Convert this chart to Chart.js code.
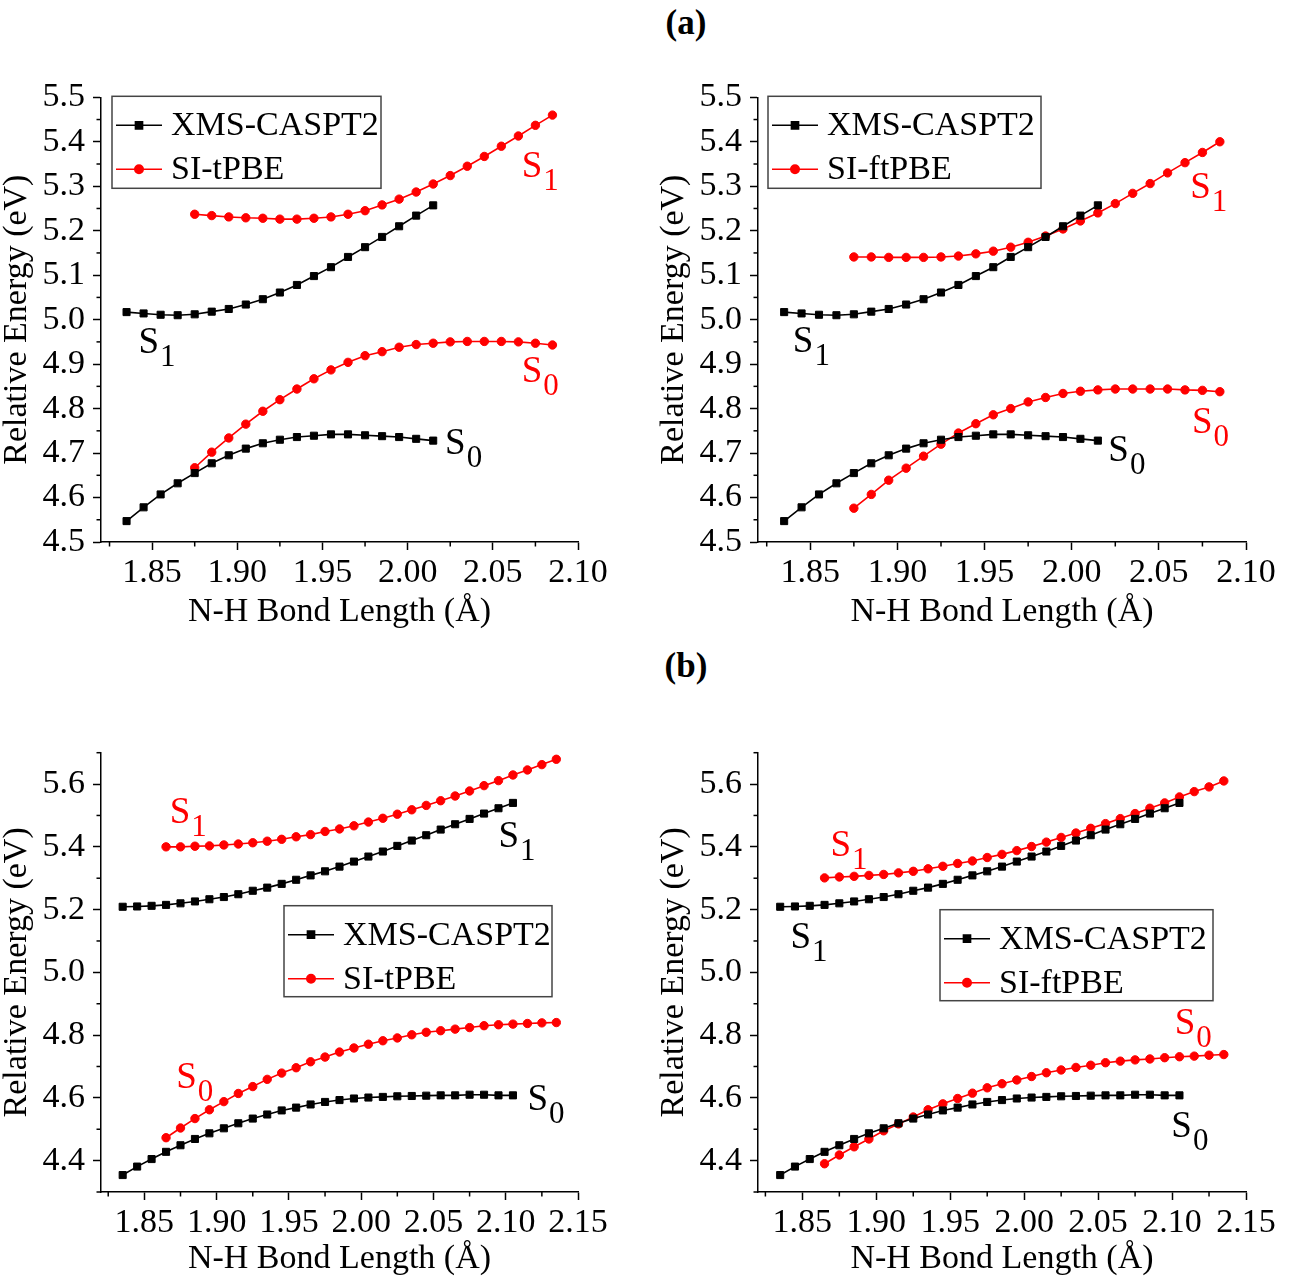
<!DOCTYPE html>
<html>
<head>
<meta charset="utf-8">
<script src="https://cdn.jsdelivr.net/npm/chart.js@4.4.1/dist/chart.umd.min.js"></script>
<style>
  body { margin: 0; background: #fff; width: 1305px; height: 1280px; position: relative; }
  .panel { position: absolute; }
  .tag { position: absolute; width: 100px; margin-left: -50px; text-align: center; line-height: 40px;
         font: bold 35px 'Liberation Serif', 'Times New Roman', serif; color: #000; }
</style>
</head>
<body>
<div class="tag" style="left:686px; top:3px;">(a)</div>
<div class="tag" style="left:686px; top:646px;">(b)</div>
<div class="panel" style="left:0px; top:60px;"><canvas id="a-tpbe" width="640" height="582"></canvas></div>
<div class="panel" style="left:657px; top:60px;"><canvas id="a-ftpbe" width="640" height="582"></canvas></div>
<div class="panel" style="left:0px; top:715px;"><canvas id="b-tpbe" width="640" height="577"></canvas></div>
<div class="panel" style="left:657px; top:715px;"><canvas id="b-ftpbe" width="640" height="577"></canvas></div>
<script>
// bond lengths (Å)
const bondA_ref = [1.835, 1.845, 1.855, 1.865, 1.875, 1.885, 1.895, 1.905, 1.915, 1.925, 1.935, 1.945, 1.955, 1.965, 1.975, 1.985, 1.995, 2.005, 2.015];
const bondA_dft = [1.875, 1.885, 1.895, 1.905, 1.915, 1.925, 1.935, 1.945, 1.955, 1.965, 1.975, 1.985, 1.995, 2.005, 2.015, 2.025, 2.035, 2.045, 2.055, 2.065, 2.075, 2.085];
const bondB_ref = [1.835, 1.845, 1.855, 1.865, 1.875, 1.885, 1.895, 1.905, 1.915, 1.925, 1.935, 1.945, 1.955, 1.965, 1.975, 1.985, 1.995, 2.005, 2.015, 2.025, 2.035, 2.045, 2.055, 2.065, 2.075, 2.085, 2.095, 2.105];
const bondB_dft = [1.865, 1.875, 1.885, 1.895, 1.905, 1.915, 1.925, 1.935, 1.945, 1.955, 1.965, 1.975, 1.985, 1.995, 2.005, 2.015, 2.025, 2.035, 2.045, 2.055, 2.065, 2.075, 2.085, 2.095, 2.105, 2.115, 2.125, 2.135];

// relative energies (eV), panel (a)
const a_caspt2_S1 = [5.017, 5.014, 5.011, 5.010, 5.012, 5.018, 5.024, 5.034, 5.046, 5.061, 5.078, 5.098, 5.118, 5.141, 5.163, 5.186, 5.210, 5.234, 5.257];
const a_caspt2_S0 = [4.547, 4.578, 4.607, 4.632, 4.655, 4.677, 4.695, 4.710, 4.722, 4.730, 4.736, 4.739, 4.742, 4.742, 4.740, 4.738, 4.736, 4.732, 4.728];
const a_tpbe_S1 = [5.237, 5.234, 5.231, 5.229, 5.228, 5.226, 5.226, 5.228, 5.231, 5.237, 5.245, 5.258, 5.271, 5.287, 5.305, 5.324, 5.345, 5.367, 5.390, 5.413, 5.437, 5.460];
const a_tpbe_S0 = [4.667, 4.702, 4.734, 4.765, 4.794, 4.820, 4.844, 4.867, 4.887, 4.904, 4.919, 4.928, 4.938, 4.944, 4.947, 4.950, 4.951, 4.951, 4.951, 4.950, 4.947, 4.943];
const a_ftpbe_S1 = [5.141, 5.141, 5.140, 5.140, 5.140, 5.141, 5.143, 5.148, 5.154, 5.163, 5.174, 5.188, 5.204, 5.222, 5.240, 5.261, 5.284, 5.306, 5.330, 5.353, 5.376, 5.400];
const a_ftpbe_S0 = [4.576, 4.607, 4.639, 4.666, 4.693, 4.720, 4.745, 4.766, 4.786, 4.800, 4.815, 4.825, 4.834, 4.839, 4.842, 4.844, 4.844, 4.844, 4.844, 4.842, 4.841, 4.838];

// relative energies (eV), panel (b)
const b_caspt2_S1 = [5.209, 5.210, 5.212, 5.215, 5.220, 5.226, 5.233, 5.240, 5.249, 5.260, 5.270, 5.282, 5.295, 5.309, 5.322, 5.337, 5.353, 5.369, 5.385, 5.403, 5.420, 5.437, 5.455, 5.472, 5.489, 5.506, 5.523, 5.540];
const b_caspt2_S0 = [4.354, 4.381, 4.405, 4.428, 4.449, 4.469, 4.487, 4.503, 4.519, 4.534, 4.547, 4.560, 4.569, 4.579, 4.587, 4.593, 4.598, 4.601, 4.603, 4.605, 4.606, 4.607, 4.608, 4.608, 4.610, 4.610, 4.608, 4.608];
const b_tpbe_S1 = [5.400, 5.400, 5.402, 5.403, 5.406, 5.409, 5.413, 5.418, 5.424, 5.432, 5.439, 5.449, 5.457, 5.467, 5.479, 5.491, 5.504, 5.518, 5.532, 5.547, 5.562, 5.578, 5.595, 5.611, 5.629, 5.645, 5.662, 5.679];
const b_tpbe_S0 = [4.473, 4.504, 4.534, 4.562, 4.588, 4.614, 4.636, 4.659, 4.679, 4.696, 4.715, 4.730, 4.746, 4.759, 4.771, 4.782, 4.791, 4.801, 4.809, 4.814, 4.819, 4.824, 4.830, 4.833, 4.835, 4.837, 4.839, 4.840];
const b_ftpbe_S1 = [5.301, 5.304, 5.306, 5.309, 5.312, 5.317, 5.322, 5.330, 5.338, 5.347, 5.355, 5.366, 5.376, 5.388, 5.401, 5.415, 5.430, 5.444, 5.459, 5.474, 5.490, 5.506, 5.523, 5.540, 5.559, 5.576, 5.591, 5.610];
const b_ftpbe_S0 = [4.390, 4.418, 4.444, 4.469, 4.495, 4.517, 4.539, 4.562, 4.581, 4.598, 4.615, 4.632, 4.645, 4.657, 4.668, 4.680, 4.689, 4.697, 4.704, 4.712, 4.717, 4.721, 4.724, 4.728, 4.731, 4.733, 4.736, 4.738];

// tick labels
const xTicksA = [1.85, 1.90, 1.95, 2.00, 2.05, 2.10];
const xMinorA = [1.825, 1.875, 1.925, 1.975, 2.025, 2.075];
const xTicksB = [1.85, 1.90, 1.95, 2.00, 2.05, 2.10, 2.15];
const xMinorB = [1.825, 1.875, 1.925, 1.975, 2.025, 2.075, 2.125];
const yTicksA = [4.5, 4.6, 4.7, 4.8, 4.9, 5.0, 5.1, 5.2, 5.3, 5.4, 5.5];
const yMinorA = [4.55, 4.65, 4.75, 4.85, 4.95, 5.05, 5.15, 5.25, 5.35, 5.45];
const yTicksB = [4.4, 4.6, 4.8, 5.0, 5.2, 5.4, 5.6];
const yMinorB = [4.3, 4.5, 4.7, 4.9, 5.1, 5.3, 5.5, 5.7];

const refName = 'XMS-CASPT2';
const serif = "'Liberation Serif', 'Times New Roman', serif";
Chart.defaults.font.family = serif;
Chart.defaults.color = '#000';

function pairs(xs, ys) {
    return xs.map((x, i) => ({x: x, y: ys[i]}));
}

function series(label, xs, ys, color, style) {
    return {
        label: label,
        data: pairs(xs, ys),
        borderColor: color,
        backgroundColor: color,
        borderWidth: 1.6,
        pointStyle: style,
        pointRadius: style === 'rect' ? 5 : 4.2,
        pointBorderWidth: 1,
        tension: 0
    };
}

// small outward ticks between the labelled ones
const minorTicks = {
    id: 'minorTicks',
    afterDraw(chart, args, o) {
        const {ctx, chartArea, scales} = chart;
        ctx.save();
        ctx.strokeStyle = '#000';
        ctx.lineWidth = 1.5;
        o.x.forEach(v => {
            const px = scales.x.getPixelForValue(v);
            ctx.beginPath();
            ctx.moveTo(px, chartArea.bottom);
            ctx.lineTo(px, chartArea.bottom + 4.5);
            ctx.stroke();
        });
        o.y.forEach(v => {
            const py = scales.y.getPixelForValue(v);
            ctx.beginPath();
            ctx.moveTo(chartArea.left, py);
            ctx.lineTo(chartArea.left - 4.5, py);
            ctx.stroke();
        });
        ctx.restore();
    }
};

// S0 / S1 state labels, placed in data coordinates
const stateLabels = {
    id: 'stateLabels',
    afterDatasetsDraw(chart, args, o) {
        const {ctx, scales} = chart;
        ctx.save();
        ctx.textBaseline = 'alphabetic';
        ctx.textAlign = 'left';
        o.items.forEach(it => {
            const px = scales.x.getPixelForValue(it.x);
            const py = scales.y.getPixelForValue(it.y);
            ctx.fillStyle = it.color;
            ctx.font = '37px ' + serif;
            ctx.fillText('S', px, py);
            const w = ctx.measureText('S').width;
            ctx.font = '31px ' + serif;
            ctx.fillText(it.sub, px + w + 1, py + 13);
        });
        ctx.restore();
    }
};

// framed legend inside the plot
const boxLegend = {
    id: 'boxLegend',
    afterDatasetsDraw(chart, args, o) {
        const {ctx, chartArea} = chart;
        const left = chartArea.left + o.dx;
        const top = chartArea.top + o.dy;
        ctx.save();
        ctx.fillStyle = '#fff';
        ctx.fillRect(left, top, o.w, o.h);
        ctx.strokeStyle = '#444';
        ctx.lineWidth = 1.5;
        ctx.strokeRect(left, top, o.w, o.h);
        o.items.forEach((idx, i) => {
            const ds = chart.data.datasets[idx];
            const cy = top + o.rows[i];
            ctx.strokeStyle = ds.borderColor;
            ctx.lineWidth = 1.6;
            ctx.beginPath();
            ctx.moveTo(left + 4, cy);
            ctx.lineTo(left + 50, cy);
            ctx.stroke();
            ctx.fillStyle = ds.backgroundColor;
            Chart.helpers.drawPoint(ctx, {pointStyle: ds.pointStyle, radius: ds.pointRadius, rotation: 0, borderWidth: 1}, left + 27, cy);
            ctx.fillStyle = '#000';
            ctx.font = '34px ' + serif;
            ctx.textBaseline = 'middle';
            ctx.fillText(ds.label, left + 59, cy + 1);
        });
        ctx.restore();
    }
};

function makePanel(id, p) {
    new Chart(document.getElementById(id), {
        type: 'line',
        data: {
            datasets: [
                series(refName, p.refX, p.refS0, '#000000', 'rect'),
                series(refName, p.refX, p.refS1, '#000000', 'rect'),
                series(p.dftName, p.dftX, p.dftS0, '#ff0000', 'circle'),
                series(p.dftName, p.dftX, p.dftS1, '#ff0000', 'circle')
            ]
        },
        options: {
            responsive: false,
            animation: false,
            layout: {padding: {top: p.padTop, right: p.padRight, left: 0, bottom: 0}},
            plugins: {
                legend: {display: false},
                tooltip: {enabled: false},
                minorTicks: {x: p.xMinor, y: p.yMinor},
                stateLabels: {items: p.labels},
                boxLegend: Object.assign({items: [0, 2], rows: [29, 73]}, p.legend)
            },
            scales: {
                x: {
                    type: 'linear',
                    min: 1.82,
                    max: p.xMax,
                    afterBuildTicks: s => { s.ticks = p.xTicks.map(v => ({value: v})); },
                    afterFit: s => { s.height = 100; },
                    ticks: {font: {size: 34}, padding: 3, maxRotation: 0, autoSkip: false,
                            callback: v => Number(v).toFixed(2)},
                    grid: {display: true, drawOnChartArea: false, drawTicks: true, tickLength: 8,
                           tickWidth: 1.5, tickColor: '#000'},
                    border: {display: true, color: '#000', width: 1.5},
                    title: {display: true, text: 'N-H Bond Length (Å)', font: {size: 34, lineHeight: 1},
                            padding: {top: 0, bottom: p.xTitlePad}}
                },
                y: {
                    min: p.yMin,
                    max: p.yMax,
                    afterBuildTicks: s => { s.ticks = p.yTicks.map(v => ({value: v})); },
                    afterFit: s => { s.width = 101; },
                    ticks: {font: {size: 34}, padding: 8, autoSkip: false,
                            callback: v => Number(v).toFixed(1)},
                    grid: {display: true, drawOnChartArea: false, drawTicks: true, tickLength: 8,
                           tickWidth: 1.5, tickColor: '#000'},
                    border: {display: true, color: '#000', width: 1.5},
                    title: {display: true, text: 'Relative Energy (eV)', font: {size: 34, lineHeight: 1},
                            padding: {top: 0, bottom: 0}}
                }
            }
        },
        plugins: [minorTicks, stateLabels, boxLegend]
    });
}

const black = '#000000', red = '#ff0000';

makePanel('a-tpbe', {
    refX: bondA_ref, refS0: a_caspt2_S0, refS1: a_caspt2_S1,
    dftName: 'SI-tPBE', dftX: bondA_dft, dftS0: a_tpbe_S0, dftS1: a_tpbe_S1,
    xMax: 2.10, xTicks: xTicksA, xMinor: xMinorA,
    yMin: 4.5, yMax: 5.5, yTicks: yTicksA, yMinor: yMinorA,
    padTop: 37.3, padRight: 62, xTitlePad: 13,
    legend: {dx: 11, dy: -1, w: 269, h: 92},
    labels: [
        {x: 1.842, y: 4.926, sub: '1', color: black},
        {x: 2.022, y: 4.697, sub: '0', color: black},
        {x: 2.067, y: 5.320, sub: '1', color: red},
        {x: 2.067, y: 4.860, sub: '0', color: red}
    ]
});

makePanel('a-ftpbe', {
    refX: bondA_ref, refS0: a_caspt2_S0, refS1: a_caspt2_S1,
    dftName: 'SI-ftPBE', dftX: bondA_dft, dftS0: a_ftpbe_S0, dftS1: a_ftpbe_S1,
    xMax: 2.10, xTicks: xTicksA, xMinor: xMinorA,
    yMin: 4.5, yMax: 5.5, yTicks: yTicksA, yMinor: yMinorA,
    padTop: 37.3, padRight: 51, xTitlePad: 13,
    legend: {dx: 10, dy: -1, w: 273, h: 92},
    labels: [
        {x: 1.840, y: 4.927, sub: '1', color: black},
        {x: 2.021, y: 4.682, sub: '0', color: black},
        {x: 2.068, y: 5.273, sub: '1', color: red},
        {x: 2.069, y: 4.745, sub: '0', color: red}
    ]
});

makePanel('b-tpbe', {
    refX: bondB_ref, refS0: b_caspt2_S0, refS1: b_caspt2_S1,
    dftName: 'SI-tPBE', dftX: bondB_dft, dftS0: b_tpbe_S0, dftS1: b_tpbe_S1,
    xMax: 2.15, xTicks: xTicksB, xMinor: xMinorB,
    yMin: 4.3, yMax: 5.7, yTicks: yTicksB, yMinor: yMinorB,
    padTop: 37.7, padRight: 62, xTitlePad: 16,
    legend: {dx: 183, dy: 153, w: 268, h: 91},
    labels: [
        {x: 2.095, y: 5.398, sub: '1', color: black},
        {x: 2.115, y: 4.562, sub: '0', color: black},
        {x: 1.8675, y: 5.4765, sub: '1', color: red},
        {x: 1.872, y: 4.632, sub: '0', color: red}
    ]
});

makePanel('b-ftpbe', {
    refX: bondB_ref, refS0: b_caspt2_S0, refS1: b_caspt2_S1,
    dftName: 'SI-ftPBE', dftX: bondB_dft, dftS0: b_ftpbe_S0, dftS1: b_ftpbe_S1,
    xMax: 2.15, xTicks: xTicksB, xMinor: xMinorB,
    yMin: 4.3, yMax: 5.7, yTicks: yTicksB, yMinor: yMinorB,
    padTop: 37.7, padRight: 51, xTitlePad: 16,
    legend: {dx: 182, dy: 157, w: 273, h: 91},
    labels: [
        {x: 1.842, y: 5.079, sub: '1', color: black},
        {x: 2.0995, y: 4.476, sub: '0', color: black},
        {x: 1.869, y: 5.370, sub: '1', color: red},
        {x: 2.1018, y: 4.802, sub: '0', color: red}
    ]
});
</script>
</body>
</html>
